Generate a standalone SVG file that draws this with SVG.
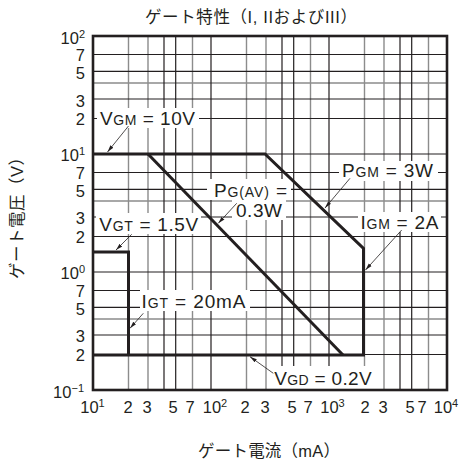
<svg xmlns="http://www.w3.org/2000/svg" width="466" height="465" viewBox="0 0 466 465">
<style>
.bg{fill:#fff}
.gg{stroke:#8c8c8c;stroke-width:1.4;fill:none}
.gd{stroke:#231f20;stroke-width:1.2;fill:none}
.box{fill:#fff;stroke:none}
.curve{stroke:#231f20;stroke-width:3;fill:none;stroke-linejoin:miter}
.frame{stroke:#231f20;stroke-width:2.6;fill:none}
.lead{stroke:#231f20;stroke-width:0.8;fill:none;marker-end:url(#ah)}
text{font-family:"Liberation Sans",Arial,sans-serif;fill:#231f20}
.lbl{font-size:19px}
.sub{font-size:14px}
.tick{font-size:16.5px}
.sup{font-size:11px}
.ttl{font-family:"Liberation Sans","Noto Sans CJK JP",sans-serif;font-size:16.5px}
</style>
<defs>
<marker id="ah" markerUnits="userSpaceOnUse" markerWidth="9" markerHeight="6" refX="7" refY="3" orient="auto">
<path d="M0,1.1 L7,3 L0,4.9 Z" fill="#231f20"/>
</marker>
</defs>
<rect class="bg" x="0" y="0" width="466" height="465"/>

<g id="grid">
<path class="gg" d="M128.5,36V390M148,36V390M192.5,36V390M246.5,36V390M266,36V390M310.5,36V390M364.5,36V390M384,36V390M428.5,36V390M93,319H447M93,201H447M93,83H447"/>
<path class="gd" d="M164,36V390M175.7,36V390M211,36V390M282,36V390M293.7,36V390M329,36V390M400,36V390M411.7,36V390"/>
<path class="gd" d="M93,354.5H447M93,335H447M93,307.3H447M93,290.5H447M93,272H447M93,236.5H447M93,217H447M93,189.3H447M93,172.5H447M93,154H447M93,118.5H447M93,99H447M93,71.3H447M93,54.5H447"/>
</g>

<g id="label-boxes">
<rect class="box" x="97" y="108" width="102" height="20"/>
<rect class="box" x="96" y="213" width="105" height="21"/>
<rect class="box" x="207" y="179" width="84" height="21"/>
<rect class="box" x="232" y="200" width="54" height="20"/>
<rect class="box" x="339" y="161" width="99" height="20"/>
<rect class="box" x="358" y="212" width="83" height="20"/>
<rect class="box" x="140" y="290" width="110" height="21"/>
<rect class="box" x="269" y="366" width="109" height="23"/>
</g>

<g id="curves">
<polyline id="vgm-pgm-igm-vgd" class="curve" points="93,154 265,154 363.5,248.5 363.5,355 93,355"/>
<polyline id="vgt-igt" class="curve" points="93,252 128.5,252 128.5,355"/>
<line id="pgav" class="curve" x1="148" y1="154" x2="343" y2="355"/>
</g>

<rect id="frame" class="frame" x="93" y="36" width="354" height="354"/>

<g id="connectors">
<line class="lead" x1="128.5" y1="126" x2="107.5" y2="152"/>
<line class="lead" x1="131.7" y1="234.3" x2="116" y2="250"/>
<line class="lead" x1="143.3" y1="313.3" x2="130" y2="328.3"/>
<line class="lead" x1="236.7" y1="203.3" x2="218.3" y2="223.3"/>
<line class="lead" x1="350" y1="178.3" x2="325" y2="208"/>
<line class="lead" x1="401.7" y1="230" x2="365.5" y2="270"/>
<line class="lead" x1="273.3" y1="373.3" x2="250" y2="356.7"/>
</g>

<g id="lbl-vgm"><text class="lbl" x="100" y="124.5" textLength="95" lengthAdjust="spacing">V<tspan class="sub">GM</tspan> = 10V</text></g>
<g id="lbl-vgt"><text class="lbl" x="99.3" y="231" textLength="99" lengthAdjust="spacing">V<tspan class="sub">GT</tspan> = 1.5V</text></g>
<g id="lbl-pgav">
<text class="lbl" x="214" y="196.7" textLength="73" lengthAdjust="spacing">P<tspan class="sub">G(AV)</tspan> =</text>
<text class="lbl" x="236" y="217.3" textLength="46" lengthAdjust="spacing">0.3W</text>
</g>
<g id="lbl-pgm"><text class="lbl" x="342" y="177" textLength="91" lengthAdjust="spacing">P<tspan class="sub">GM</tspan> = 3W</text></g>
<g id="lbl-igm"><text class="lbl" x="360.5" y="228.5" textLength="78" lengthAdjust="spacing">I<tspan class="sub">GM</tspan> = 2A</text></g>
<g id="lbl-igt"><text class="lbl" x="141.5" y="307.7" textLength="104" lengthAdjust="spacing">I<tspan class="sub">GT</tspan> = 20mA</text></g>
<g id="lbl-vgd"><text class="lbl" x="274.3" y="385" textLength="97.4" lengthAdjust="spacing">V<tspan class="sub">GD</tspan> = 0.2V</text></g>

<g id="y-ticks" text-anchor="end">
<text class="tick" x="85" y="44">10<tspan class="sup" dy="-6">2</tspan></text>
<text class="tick" x="85" y="61">7</text>
<text class="tick" x="85" y="79">5</text>
<text class="tick" x="85" y="106.5">3</text>
<text class="tick" x="85" y="125">2</text>
<text class="tick" x="85" y="160.5">10<tspan class="sup" dy="-6">1</tspan></text>
<text class="tick" x="85" y="178.5">7</text>
<text class="tick" x="85" y="196.5">5</text>
<text class="tick" x="85" y="224">3</text>
<text class="tick" x="85" y="243">2</text>
<text class="tick" x="85" y="278.5">10<tspan class="sup" dy="-6">0</tspan></text>
<text class="tick" x="85" y="296.5">7</text>
<text class="tick" x="85" y="314.5">5</text>
<text class="tick" x="85" y="342">3</text>
<text class="tick" x="85" y="361">2</text>
<text class="tick" x="84" y="398">10<tspan class="sup" dy="-6">−1</tspan></text>
</g>

<g id="x-ticks" text-anchor="middle">
<text class="tick" x="92.5" y="413.3">10<tspan class="sup" dy="-6">1</tspan></text>
<text class="tick" x="128" y="413.3">2</text>
<text class="tick" x="147" y="413.3">3</text>
<text class="tick" x="173" y="413.3">5</text>
<text class="tick" x="190" y="413.3">7</text>
<text class="tick" x="215" y="413.3">10<tspan class="sup" dy="-6">2</tspan></text>
<text class="tick" x="245" y="413.3">2</text>
<text class="tick" x="265" y="413.3">3</text>
<text class="tick" x="292" y="413.3">5</text>
<text class="tick" x="308" y="413.3">7</text>
<text class="tick" x="332.5" y="413.3">10<tspan class="sup" dy="-6">3</tspan></text>
<text class="tick" x="365" y="413.3">2</text>
<text class="tick" x="383" y="413.3">3</text>
<text class="tick" x="410" y="413.3">5</text>
<text class="tick" x="422" y="413.3">7</text>
<text class="tick" x="446" y="413.3">10<tspan class="sup" dy="-6">4</tspan></text>
</g>

<g id="titles">
<text class="ttl" x="145" y="23" textLength="212" lengthAdjust="spacing">ゲート特性（I, IIおよびIII）</text>
<text class="ttl" x="198" y="457" textLength="142" lengthAdjust="spacing">ゲート電流（mA）</text>
<text class="ttl" transform="translate(23,214) rotate(-90)" x="0" y="0" text-anchor="middle" textLength="130" lengthAdjust="spacing">ゲート電圧（V）</text>
</g>
</svg>
